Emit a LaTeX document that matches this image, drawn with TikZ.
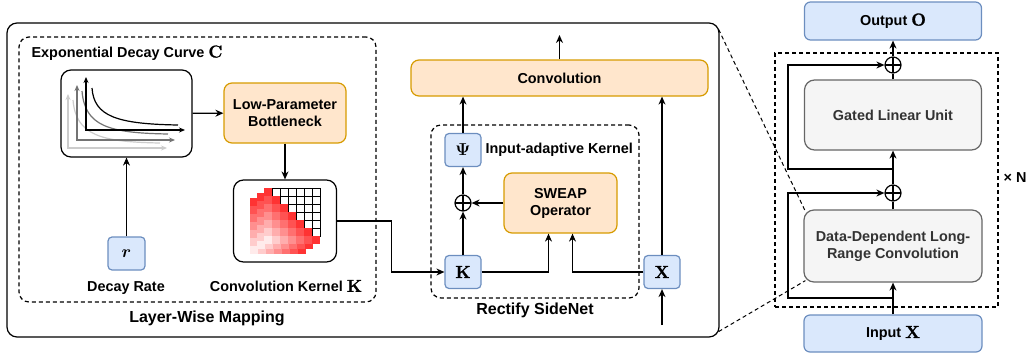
\documentclass[tikz,border=0pt]{standalone}
\usepackage[no-math]{fontspec}
\setmainfont{Liberation Sans}
\newfontfamily\lmbf[FakeBold=1.5]{Latin Modern Roman}
\usetikzlibrary{
    arrows.meta,
    calc,
    positioning
}
\definecolor{blueF}{HTML}{DAE8FC}
\definecolor{blueD}{HTML}{6C8EBF}
\definecolor{orangeF}{HTML}{FFE6CC}
\definecolor{orangeD}{HTML}{D79B00}
\definecolor{grayF}{HTML}{F5F5F5}
\definecolor{grayD}{HTML}{666666}
\definecolor{grayT}{HTML}{333333}
\newcommand{\lblfont}{\fontsize{14.4}{17}\selectfont\bfseries}
\newcommand{\grpfont}{\fontsize{16}{19}\selectfont\bfseries}
\newcommand{\mth}[1]{{\fontsize{17.28}{17}\selectfont\boldmath$#1$}}
\newcommand{\vbf}[1]{{\fontsize{17.28}{17}\selectfont\lmbf\bfseries #1}}
\tikzset{
  every path/.style={
    line width=1.2pt
  },
  every node/.style={
    font=\lblfont,
    inner sep=2pt
  },
  arr/.style={-{Stealth[length=8pt,width=7pt]}},
  axarr/.style={{Stealth[length=6pt,width=5pt]}-{Stealth[length=6pt,width=5pt]}},
  bluebox/.style={draw=blueD, fill=blueF, rounded corners=4pt, minimum width=36pt, minimum height=33pt},
  orangebox/.style={draw=orangeD, fill=orangeF, rounded corners=8pt, align=center},
  graybox/.style={draw=grayD, fill=grayF, text=grayT, rounded corners=10pt, align=center},
  plainbox/.style={draw, fill=white, rounded corners=10pt},
  grpbox/.style={draw, dash pattern=on 4pt off 3pt, rounded corners=10pt, inner sep=0pt},
  addop/.style={draw, circle, minimum size=16pt, inner sep=0pt,
    path picture={\draw (path picture bounding box.north) -- (path picture bounding box.south)
      (path picture bounding box.west) -- (path picture bounding box.east);}},
  zoomline/.style={dash pattern=on 4pt off 3pt, line width=1pt}
}

\begin{document}
\begin{tikzpicture}[x=1pt, y=-1pt]
    \useasboundingbox (0,0) rectangle (1034,356);

    % 枠
    \node[draw, rounded corners=10pt, minimum width=712pt, minimum height=314pt] (lw) at (363,180) {};
    \node[grpbox, minimum width=357pt, minimum height=265pt] (expg) at (197.5,169.5) {};
    \node[grpbox, minimum width=208pt, minimum height=173pt] (sideg) at (535,211.5) {};
    \node[grpbox, rounded corners=0pt, minimum width=223pt, minimum height=254pt] (blkg) at (886.5,180) {};

    % Layer-Wise Mapping
    \node[anchor=west] (expname) at (29,53) {Exponential Decay Curve \vbf{C}};
    \node[plainbox, minimum width=131pt, minimum height=87pt] (curve) at (126.5,113.5) {};
    \node[orangebox, minimum width=122pt, minimum height=60pt] (lpb) at (285,113) {Low-Parameter\\Bottleneck};
    \node[plainbox, minimum width=103pt, minimum height=82pt] (kern) at (285,221) {};
    \node (kernname) at (286,286) {Convolution Kernel \vbf{K}};
    \node[bluebox, minimum width=37pt] (rate) at (126.5,253.5) {\mth{r}};
    \node (ratename) at (126,288) {Decay Rate};
    \node[font=\grpfont] (lwname) at (207,318) {Layer-Wise Mapping};

    % 減衰曲線
    \draw[axarr, black!20] (68,94) |- (167,148);
    \draw[black!20] (73,100) .. controls (76,135) and (100,142) .. (160,143);
    \draw[axarr, black!55] (77,85) |- (175,140);
    \draw[black!55] (82,91) .. controls (85,126) and (108,133) .. (168,134);
    \draw[axarr, black] (86,77) |- (185,130);
    \draw[black] (92,88) .. controls (94,116) and (116,124) .. (178,125);

    % カーネル行列
    \foreach \ox/\oy in {250/198, 257/193, 264/188} {
      \foreach \i in {0,...,6} {
        \foreach \j in {0,...,6} {
          \pgfmathtruncatemacro{\d}{\i-\j}
          \ifnum\d<0
            \draw[line width=0.6pt, fill=white] (\ox+8*\j,\oy+8*\i) rectangle ++(8,8);
          \else
            \pgfmathtruncatemacro{\pct}{80-12*\d}
            \fill[red!\pct!white] (\ox+8*\j,\oy+8*\i) rectangle ++(8,8);
          \fi
        }
      }
    }

    % Rectify SideNet
    \node[orangebox, minimum width=297pt, minimum height=36pt] (conv) at (559.5,78) {Convolution};
    \coordinate (convout) at (559.5,35);
    \node[bluebox] (psi) at (463,150) {\mth{\Psi}};
    \node[anchor=west] (psiname) at (483,150) {Input-adaptive Kernel};
    \node[addop] (add) at (463,203) {};
    \node[orangebox, minimum width=113pt, minimum height=60pt] (sweap) at (560.5,203) {SWEAP\\Operator};
    \node[bluebox] (kk) at (463,272) {\vbf{K}};
    \node[bluebox] (xx) at (662,272) {\vbf{X}};
    \coordinate (xin) at (662,325);
    \node[font=\grpfont] (sidename) at (535,310) {Rectify SideNet};

    % ブロック
    \node[bluebox, minimum width=177pt, minimum height=38pt, rounded corners=6pt] (outp) at (893,21) {Output \vbf{O}};
    \node[addop] (addT) at (893,65) {};
    \node[graybox, minimum width=177pt, minimum height=70pt] (glu) at (893,115) {Gated Linear Unit};
    \node[addop] (addB) at (893,193) {};
    \node[graybox, minimum width=178pt, minimum height=72pt] (ddc) at (893,246) {Data-Dependent Long-\\Range Convolution};
    \node[bluebox, minimum width=178pt, minimum height=37pt, rounded corners=6pt] (inp) at (893,333.5) {Input \vbf{X}};
    \node (times) at (1015,178) {× N};
    \coordinate (skipB) at (893,298);
    \coordinate (skipT) at (893,169);

    % 矢印
    \draw[arr] (curve) -- (lpb);
    \draw[arr] (lpb) -- (kern);
    \draw[arr] (rate) -- (curve);
    \draw[arr] (kern.east) -- ++(54,0) |- (kk.west);
    \draw[arr] (kk) -- (add);
    \draw[arr] (add) -- (psi);
    \draw[arr] (psi.north) -- (psi.north |- conv.south);
    \draw[arr] (sweap.west) -- (add.east);
    \draw[arr] (kk.east) -| ($(sweap.south)+(-12,0)$);
    \draw[arr] (xx.west) -| ($(sweap.south)+(12,0)$);
    \draw[arr] (xx.north) -- (xx.north |- conv.south);
    \draw[arr] (xin) -- (xx);
    \draw[arr] (conv.north) -- (convout);

    \draw[arr] (inp) -- (ddc);
    \draw (ddc) -- (addB);
    \draw[arr] (addB) -- (glu);
    \draw (glu) -- (addT);
    \draw[arr] (addT) -- (outp);
    \draw[arr] (skipB) -- ++(-105,0) |- (addB.west);
    \draw[arr] (skipT) -- ++(-105,0) |- (addT.west);

    % 拡大線
    \draw[zoomline] ($(lw.north east)+(-1,7)$) -- ($(ddc.north west)+(2,2)$);
    \draw[zoomline] ($(lw.south east)+(-1,-6)$) -- ($(ddc.south west)+(2,-2)$);
\end{tikzpicture}
\end{document}
